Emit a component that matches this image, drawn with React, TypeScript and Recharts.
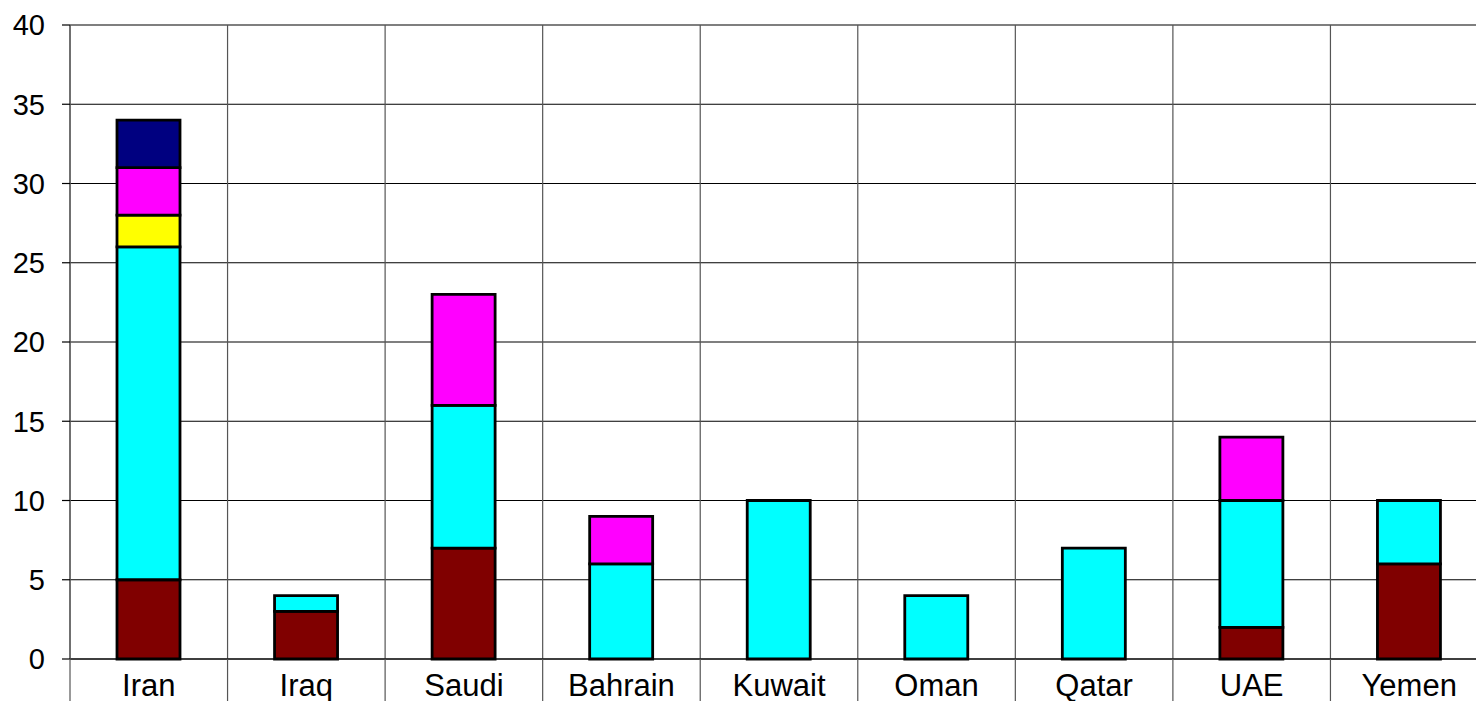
import React from "react";
import { BarChart, Bar, XAxis, YAxis, CartesianGrid } from "recharts";

const categories = ["Iran", "Iraq", "Saudi", "Bahrain", "Kuwait", "Oman", "Qatar", "UAE", "Yemen"];
const maroonValues = [5, 3, 7, 0, 0, 0, 0, 2, 6];
const cyanValues = [21, 1, 9, 6, 10, 4, 7, 8, 4];
const yellowValues = [2, 0, 0, 0, 0, 0, 0, 0, 0];
const magentaValues = [3, 0, 7, 3, 0, 0, 0, 4, 0];
const navyValues = [3, 0, 0, 0, 0, 0, 0, 0, 0];
const yTicks = [0, 5, 10, 15, 20, 25, 30, 35, 40];

const data = categories.map((name, i) => ({
  name,
  maroon: maroonValues[i],
  cyan: cyanValues[i],
  yellow: yellowValues[i],
  magenta: magentaValues[i],
  navy: navyValues[i],
}));

const VIEW_W = 1476;
const W = 1488;
const H = 701;
const LEFT = 70;
const AXIS_H = 42;
const FONT = "'Liberation Sans', Arial, sans-serif";

const plotWidth = W - LEFT;
const band = plotWidth / categories.length;

const XTick = (props: any) => {
  const { x, y, payload, index } = props;
  const left = x - band / 2;
  const right = x + band / 2;
  return (
    <g>
      <line x1={left} y1={y} x2={left} y2={y + AXIS_H} stroke="#555" strokeWidth={1.2} />
      {index === categories.length - 1 && (
        <line x1={right} y1={y} x2={right} y2={y + AXIS_H} stroke="#555" strokeWidth={1.2} />
      )}
      <text x={x} y={y + 37} textAnchor="middle" fontSize={31} fontFamily={FONT} fill="#000">
        {payload.value}
      </text>
    </g>
  );
};

export default function App() {
  const series = [
    { key: "maroon", color: "#800000" },
    { key: "cyan", color: "#00FFFF" },
    { key: "yellow", color: "#FFFF00" },
    { key: "magenta", color: "#FF00FF" },
    { key: "navy", color: "#000080" },
  ];
  return (
    <div style={{ position: "absolute", left: 0, top: 0, width: VIEW_W, height: H, overflow: "hidden", background: "#fff" }}>
      <BarChart width={W} height={H} data={data} margin={{ top: 25, right: 0, bottom: 0, left: 0 }} barSize={63}>
        <CartesianGrid stroke="#000" strokeWidth={1.2} vertical={false} />
        <CartesianGrid
          stroke="#555"
          strokeWidth={1.2}
          horizontal={false}
          verticalCoordinatesGenerator={({ offset }: any) =>
            categories.map((_, i) => offset.left + (offset.width * i) / categories.length)
          }
        />
        <XAxis
          dataKey="name"
          height={AXIS_H}
          axisLine={{ stroke: "#000", strokeWidth: 1.2 }}
          tickLine={false}
          tickSize={0}
          tickMargin={0}
          interval={0}
          tick={<XTick />}
        />
        <YAxis
          width={LEFT}
          domain={[0, 40]}
          ticks={yTicks}
          interval={0}
          axisLine={{ stroke: "#555", strokeWidth: 1.2 }}
          tickLine={{ stroke: "#000", strokeWidth: 1.2 }}
          tickSize={8}
          tickMargin={17}
          tick={{ fontSize: 29, fontFamily: FONT, fill: "#000" }}
        />
        {series.map((s) => (
          <Bar
            key={s.key}
            dataKey={s.key}
            stackId="a"
            fill={s.color}
            stroke="#000"
            strokeWidth={2.8}
            isAnimationActive={false}
          />
        ))}
      </BarChart>
    </div>
  );
}
